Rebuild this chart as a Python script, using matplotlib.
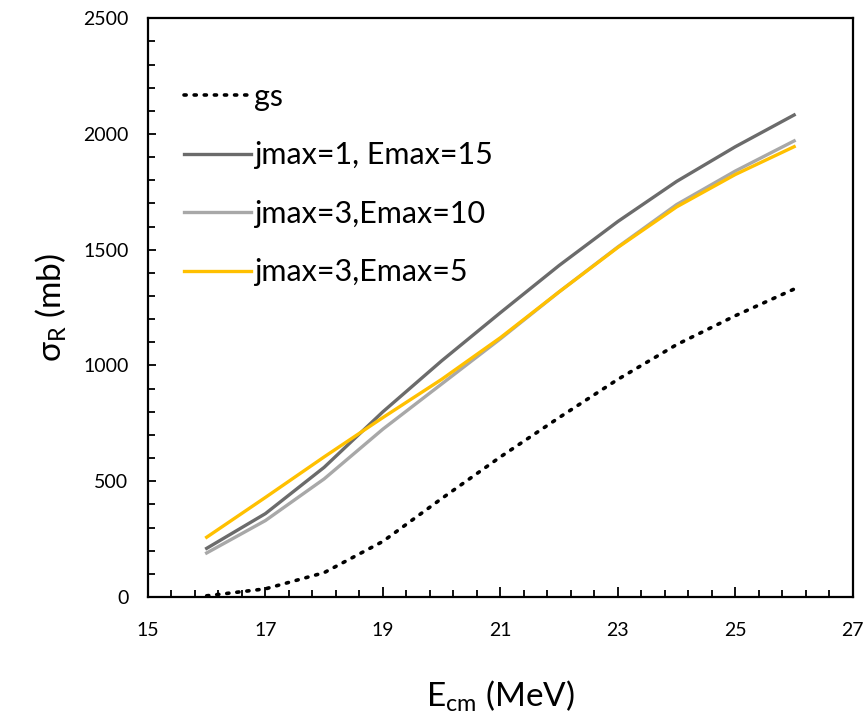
import matplotlib.pyplot as plt
import numpy as np
from matplotlib.ticker import FixedLocator, MultipleLocator

# E_cm (MeV)
energy = [16, 17, 18, 19, 20, 21, 22, 23, 24, 25, 26]

# sigma_R (mb)
gs = [5, 35, 105, 240, 425, 605, 775, 940, 1090, 1215, 1330]
j1_e15 = [210, 360, 560, 800, 1020, 1228, 1432, 1622, 1795, 1945, 2082]
j3_e10 = [190, 330, 510, 725, 920, 1115, 1318, 1512, 1695, 1840, 1970]
j3_e5 = [258, 430, 605, 775, 940, 1120, 1318, 1510, 1685, 1825, 1945]

labels = ['gs', 'jmax=1, Emax=15', 'jmax=3,Emax=10', 'jmax=3,Emax=5']

plt.rcParams['font.family'] = ['Lato', 'DejaVu Sans']

fig = plt.figure(figsize=(8.65, 7.28), dpi=100)
ax = fig.add_axes([0.171, 0.180, 0.815, 0.795])

ax.plot(energy, gs, color='black', lw=2.6, linestyle=(0, (0.6, 2.2)),
        dash_capstyle='round', label=labels[0])
ax.plot(energy, j1_e15, color='#6b6b6b', lw=2.4, label=labels[1])
ax.plot(energy, j3_e10, color='#a8a8a8', lw=2.4, label=labels[2])
ax.plot(energy, j3_e5, color='#ffc000', lw=2.4, label=labels[3])

ax.set_xlim(15, 27)
ax.set_ylim(0, 2500)
ax.xaxis.set_major_locator(FixedLocator(np.arange(15, 27.1, 2)))
ax.xaxis.set_minor_locator(FixedLocator(np.arange(15, 27.01, 0.4)))
ax.yaxis.set_major_locator(MultipleLocator(500))
ax.yaxis.set_minor_locator(MultipleLocator(100))

ax.tick_params(which='both', direction='in', width=1.3, labelsize=14)
ax.tick_params(axis='y', which='major', length=6, pad=14)
ax.tick_params(axis='y', which='minor', length=5)
ax.tick_params(axis='x', which='major', length=7, pad=18)
ax.tick_params(axis='x', which='minor', length=5)
for s in ax.spines.values():
    s.set_linewidth(1.6)

ax.set_xlabel(r'E$_\mathregular{cm}$ (MeV)', fontsize=24, labelpad=28)
ax.set_ylabel(r'$\mathregular{\sigma}_\mathregular{R}$ (mb)', fontsize=24, labelpad=10)

ax.legend(loc='upper left', bbox_to_anchor=(0.012, 0.936), frameon=False,
          fontsize=22, handlelength=2.2, handletextpad=0.1, labelspacing=1.0)

fig.savefig('out.png', dpi=100)
